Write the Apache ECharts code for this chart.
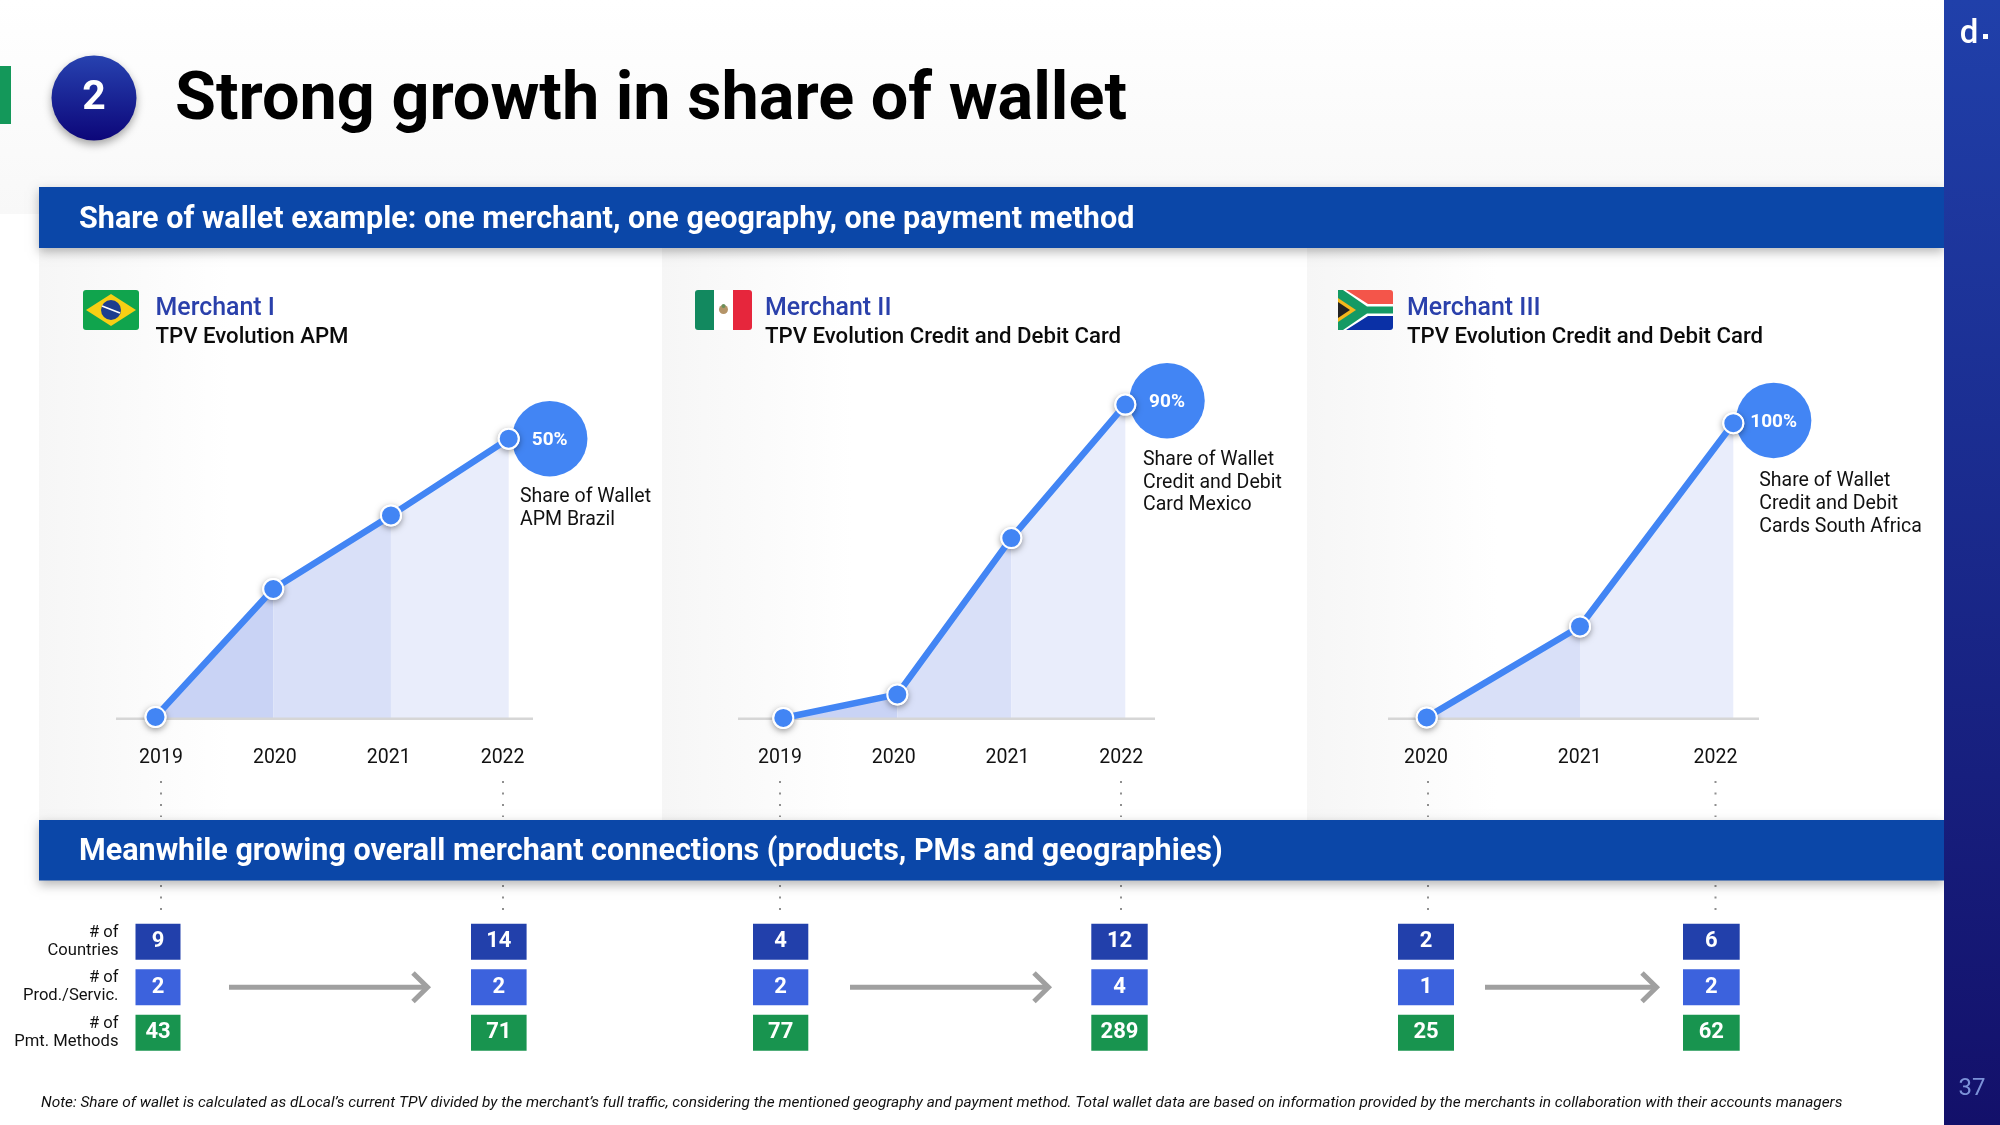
<!DOCTYPE html>
<html>
<head>
<meta charset="utf-8">
<style>html,body{margin:0;padding:0;background:#fff}#c{width:2000px;height:1125px}</style>
<script src="https://cdn.jsdelivr.net/npm/echarts@6/dist/echarts.min.js"></script>
</head>
<body>
<div id="c"></div>
<script>
// ---- data ----
const titleText = 'Strong growth in share of wallet';
const header1 = 'Share of wallet example: one merchant, one geography, one payment method';
const header2 = 'Meanwhile growing overall merchant connections (products, PMs and geographies)';
const noteText = "Note: Share of wallet is calculated as dLocal\u2019s current TPV divided by the merchant\u2019s full traffic, considering the mentioned geography and payment method. Total wallet data are based on information provided by the merchants in collaboration with their accounts managers";

const yearsA = ['2019', '2020', '2021', '2022'];
const yearsB = ['2019', '2020', '2021', '2022'];
const yearsC = ['2020', '2021', '2022'];
// TPV index, last year = 100 (no scale in the original)
const tpvA = [0.6, 46.3, 72.6, 100];
const tpvB = [0.2, 7.7, 57.5, 100];
const tpvC = [0.4, 31.2, 100];
const shareLabels = ['50%', '90%', '100%'];

const rowNames = ['# of\nCountries', '# of\nProd./Servic.', '# of\nPmt. Methods'];
const connA2019 = [9, 2, 43];
const connA2022 = [14, 2, 71];
const connB2019 = [4, 2, 77];
const connB2022 = [12, 4, 289];
const connC2020 = [2, 1, 25];
const connC2022 = [6, 2, 62];

// ---- styling ----
const FONT = 'Roboto';
const BLUE = '#4285f4';
const bandColors = ['#e9edfb', '#d9e0f8', '#c9d3f5'];
const rowColors = ['#2240ab', '#3c62dd', '#18944f'];
const LG = (x, y, x2, y2, a, b) => new echarts.graphic.LinearGradient(x, y, x2, y2, [{offset: 0, color: a}, {offset: 1, color: b}]);

const charts = [
  {cats: yearsA, vals: tpvA, left: 155.5, right: 508.7, top: 438.7, lblL: 161, lblR: 502.6, lblShift: [0, 0, 0, 0], axis: [116, 533], share: shareLabels[0], off: [41, 0]},
  {cats: yearsB, vals: tpvB, left: 783.3, right: 1125.3, top: 404.6, lblL: 780, lblR: 1121.2, lblShift: [0, 0, 0, 0], axis: [738, 1155], share: shareLabels[1], off: [41.7, -3.9]},
  {cats: yearsC, vals: tpvC, left: 1426.7, right: 1733.3, top: 423.2, lblL: 1426, lblR: 1715.5, lblShift: [0, 18, 0], axis: [1388, 1759], share: shareLabels[2], off: [40.3, -2.8]}
];
const BASE = 718.6;

const columns = [
  {x: 135.5, w: 45, vals: connA2019, name: yearsA[0], first: true},
  {x: 471, w: 55.6, vals: connA2022, name: yearsA[3]},
  {x: 753, w: 55.3, vals: connB2019, name: yearsB[0]},
  {x: 1091.3, w: 56.4, vals: connB2022, name: yearsB[3]},
  {x: 1398, w: 56, vals: connC2020, name: yearsC[0]},
  {x: 1683, w: 56.7, vals: connC2022, name: yearsC[2]}
];

const grids = [], xAxes = [], yAxes = [], series = [];
const addGrid = (g, x, y) => {
  grids.push(g);
  const i = grids.length - 1;
  xAxes.push(Object.assign({gridIndex: i}, x));
  yAxes.push(Object.assign({gridIndex: i}, y));
  return i;
};

charts.forEach(c => {
  const i = addGrid(
    {left: c.left, width: c.right - c.left, top: c.top, height: BASE - c.top},
    {type: 'category', data: c.cats, boundaryGap: false, show: false},
    {type: 'value', min: 0, max: 100, show: false}
  );
  // stepped shade bands
  const n = c.vals.length;
  for (let b = 0; b < n - 1; b++) {
    series.push({
      type: 'line', xAxisIndex: i, yAxisIndex: i, z: 1, silent: true, symbol: 'none',
      lineStyle: {width: 0},
      areaStyle: {color: bandColors[n - 2 - b], opacity: 1},
      data: c.vals.map((v, k) => (k === b || k === b + 1) ? v : null)
    });
  }
  // soft shadow under the markers
  series.push({
    type: 'scatter', xAxisIndex: i, yAxisIndex: i, z: 9, silent: true, clip: false,
    symbol: 'circle', symbolSize: 22,
    itemStyle: {color: '#fff', opacity: 1, shadowBlur: 6, shadowColor: 'rgba(0,0,0,0.4)', shadowOffsetY: 2},
    data: c.vals
  });
  series.push({
    type: 'line', xAxisIndex: i, yAxisIndex: i, z: 10, silent: true,
    symbol: 'circle', symbolSize: 20, showSymbol: true,
    lineStyle: {color: BLUE, width: 6.5},
    itemStyle: {color: BLUE, borderColor: '#fff', borderWidth: 2},
    data: c.vals,
    clip: false,
    markPoint: {
      z: 4, silent: true, symbol: 'circle', symbolSize: 75.5, symbolOffset: c.off,
      itemStyle: {color: BLUE, borderWidth: 0},
      label: {show: true, position: 'inside', offset: [0, 1.5], formatter: c.share, color: '#fff', fontFamily: FONT, fontWeight: 700, fontSize: 19},
      data: [{coord: [c.cats[n - 1], 100]}]
    }
  });
  // tick labels sit on their own slightly narrower scale, as in the original
  const rich = {};
  c.lblShift.forEach((s, k) => { rich['s' + k] = {padding: [0, 0, 0, s], color: '#111', fontFamily: FONT, fontSize: 19.5}; });
  addGrid(
    {left: c.lblL, width: c.lblR - c.lblL, top: BASE - 10, height: 10},
    {type: 'category', data: c.cats, boundaryGap: false,
     axisLine: {show: false}, axisTick: {show: false},
     axisLabel: {show: true, interval: 0, margin: 29.5, color: '#111', fontFamily: FONT, fontSize: 19.5,
       formatter: (v, k) => '{s' + k + '|' + v + '}', rich}},
    {type: 'value', show: false}
  );
});

columns.forEach(col => {
  const i = addGrid(
    {left: col.x, width: col.w, top: 919, height: 136.5},
    {type: 'category', data: [col.name], show: false},
    {type: 'category', data: rowNames, inverse: true, show: !!col.first,
     axisLine: {show: false}, axisTick: {show: false},
     axisLabel: {show: !!col.first, interval: 0, margin: 17, align: 'right', color: '#111', fontFamily: FONT, fontSize: 16.6, lineHeight: 18, padding: [4, 0, 0, 0]}}
  );
  series.push({
    type: 'scatter', xAxisIndex: i, yAxisIndex: i, silent: true, z: 5,
    symbol: 'rect', symbolSize: [col.w, 36],
    data: col.vals.map((v, r) => ({value: [0, r, v], itemStyle: {color: rowColors[r], opacity: 1}})),
    label: {show: true, position: 'inside', offset: [0, 0], formatter: p => String(p.value[2]), color: '#fff', fontFamily: FONT, fontWeight: 700, fontSize: 22}
  });
});

// ---- slide furniture ----
const g = [];
const rect = (x, y, w, h, fill, z, extra) => g.push(Object.assign({type: 'rect', shape: {x, y, width: w, height: h}, style: Object.assign({fill}, extra || {}), z: z || 0, silent: true}));
const text = (x, y, t, font, fill, z, align, sx) => g.push({type: 'text', z: z || 20, silent: true, x, y: y + 2.5, scaleX: sx || 1, style: {x: 0, y: 0, text: t, font, fill, textAlign: align || 'left', textVerticalAlign: 'middle'}});
const dots = (x, y1, y2) => g.push({type: 'line', z: 1, silent: true, shape: {x1: x, y1, x2: x, y2}, style: {stroke: '#8f8f8f', lineWidth: 2, lineDash: [2, 9.5]}});

// backgrounds
rect(0, 0, 1944, 214, null, 0, {fill: LG(0, 0, 0, 1, '#ffffff', '#f8f8f8')});
[[39, 662], [662, 1307], [1307, 1944]].forEach(p => {
  rect(p[0], 248, p[1] - p[0], 572, '#fff', 0);
  rect(p[0], 248, Math.min(190, p[1] - p[0]), 572, null, 0, {fill: LG(0, 0, 1, 0, '#f6f6f6', '#ffffff')});
});
rect(1944, 0, 56, 1125, null, 30, {fill: LG(0, 0, 0, 1, '#2040aa', '#13106a')});
rect(0, 66, 11, 58, '#14985a', 2);

// headers
rect(39, 187, 1905, 61, '#0b47a8', 6, {shadowBlur: 10, shadowColor: 'rgba(0,0,0,0.28)', shadowOffsetY: 4});
rect(39, 820, 1905, 60.5, '#0b47a8', 6, {shadowBlur: 10, shadowColor: 'rgba(0,0,0,0.28)', shadowOffsetY: 4});
text(79, 218, header1, '700 31.5px ' + FONT, '#fff', 20, 'left', 0.969);
text(79, 850, header2, '700 31.5px ' + FONT, '#fff', 20, 'left', 0.969);

// title
g.push({type: 'circle', z: 5, silent: true, shape: {cx: 94, cy: 98, r: 42.5}, style: {fill: LG(0, 0, 0, 1, '#2742b0', '#0c0679'), shadowBlur: 9, shadowColor: 'rgba(0,0,0,0.35)', shadowOffsetY: 4}});
text(94, 96, '2', '700 41px ' + FONT, '#fff', 20, 'center');
text(175, 99.5, titleText, '700 66.6px ' + FONT, '#000');

// logo, page no.
text(1969, 32, 'd', '500 33px ' + FONT, '#fff', 40, 'center');
rect(1983, 34, 5, 5, '#fff', 40);
text(1972, 1086, '37', '400 24px ' + FONT, '#7c92d8', 40, 'center');

// merchants
[[155.5, 'Merchant I', 'TPV Evolution APM'], [765, 'Merchant II', 'TPV Evolution Credit and Debit Card'], [1407, 'Merchant III', 'TPV Evolution Credit and Debit Card']].forEach(m => {
  text(m[0], 306, m[1], '500 26.5px ' + FONT, '#2a40ab', 20, 'left', 0.94);
  text(m[0], 335, m[2], '500 22.5px ' + FONT, '#0b0b0b', 20, 'left', 0.986);
});

// flags
const poly = (points, fill, z) => g.push({type: 'polygon', z: z || 8, silent: true, shape: {points}, style: {fill}});
// Brazil
rect(83, 290, 56, 40, '#10a44d', 7, {}); g[g.length - 1].shape.r = 3;
poly([[111, 294], [136, 310], [111, 326], [86, 310]], '#f7cf14');
g.push({type: 'circle', z: 9, silent: true, shape: {cx: 111, cy: 310, r: 10}, style: {fill: '#1d3d8f'}});
g.push({type: 'line', z: 10, silent: true, shape: {x1: 102, y1: 306, x2: 120, y2: 313}, style: {stroke: '#fff', lineWidth: 1.6}});
// Mexico
rect(695, 290, 57, 40, '#fff', 7); g[g.length - 1].shape.r = 3;
rect(695, 290, 19, 40, '#12895f', 8); g[g.length - 1].shape.r = [3, 0, 0, 3];
rect(733, 290, 19, 40, '#e6263c', 8); g[g.length - 1].shape.r = [0, 3, 3, 0];
g.push({type: 'circle', z: 9, silent: true, shape: {cx: 723.5, cy: 309.5, r: 4.5}, style: {fill: '#b49468'}});
g.push({type: 'circle', z: 9, silent: true, shape: {cx: 723.5, cy: 306, r: 2}, style: {fill: '#6b8f5a'}});
// South Africa
rect(1338, 290, 55, 20, '#f4554a', 7); g[g.length - 1].shape.r = [3, 3, 0, 0];
rect(1338, 310, 55, 20, '#0a30a6', 7); g[g.length - 1].shape.r = [0, 0, 3, 3];
poly([[1338, 290], [1346, 290], [1368, 304], [1393, 304], [1393, 316], [1368, 316], [1346, 330], [1338, 330]], '#fff', 8);
poly([[1338, 290], [1343, 290], [1367, 306.5], [1393, 306.5], [1393, 313.5], [1367, 313.5], [1343, 330], [1338, 330]], '#149a64', 9);
poly([[1338, 298], [1356, 310], [1338, 322]], '#f4b81c', 10);
poly([[1338, 302], [1350, 310], [1338, 318]], '#222', 11);

// baselines
charts.forEach(c => rect(c.axis[0], BASE - 1.2, c.axis[1] - c.axis[0], 2.6, '#d6d6d6', 3));

// share captions
[[520, 495, 'Share of Wallet'], [520, 518, 'APM Brazil'],
 [1143, 458, 'Share of Wallet'], [1143, 480.5, 'Credit and Debit'], [1143, 503, 'Card Mexico'],
 [1759.2, 478.5, 'Share of Wallet'], [1759.2, 501.5, 'Credit and Debit'], [1759.2, 524.5, 'Cards South Africa']]
  .forEach(t => text(t[0], t[1], t[2], '400 19.5px ' + FONT, '#111'));

// dotted links
[161, 503, 780, 1121, 1428, 1715.5].forEach(x => { dots(x, 781, 817); dots(x, 885, 910); });

// arrows
[[229, 429], [850, 1050], [1485, 1658]].forEach(a => {
  g.push({type: 'line', z: 4, silent: true, shape: {x1: a[0], y1: 987.3, x2: a[1] - 1, y2: 987.3}, style: {stroke: '#a0a0a0', lineWidth: 5}});
  g.push({type: 'polyline', z: 4, silent: true, shape: {points: [[a[1] - 16, 973], [a[1] - 1.5, 987.3], [a[1] - 16, 1001.5]]}, style: {stroke: '#a0a0a0', fill: null, lineWidth: 5}});
});

// footnote
text(41, 1100.5, noteText, 'italic 400 15.4px ' + FONT, '#111');

const chart = echarts.init(document.getElementById('c'), null, {renderer: 'canvas', width: 2000, height: 1125});
chart.setOption({
  animation: false,
  backgroundColor: '#fff',
  grid: grids,
  xAxis: xAxes,
  yAxis: yAxes,
  series,
  graphic: {elements: g}
});
</script>
</body>
</html>
